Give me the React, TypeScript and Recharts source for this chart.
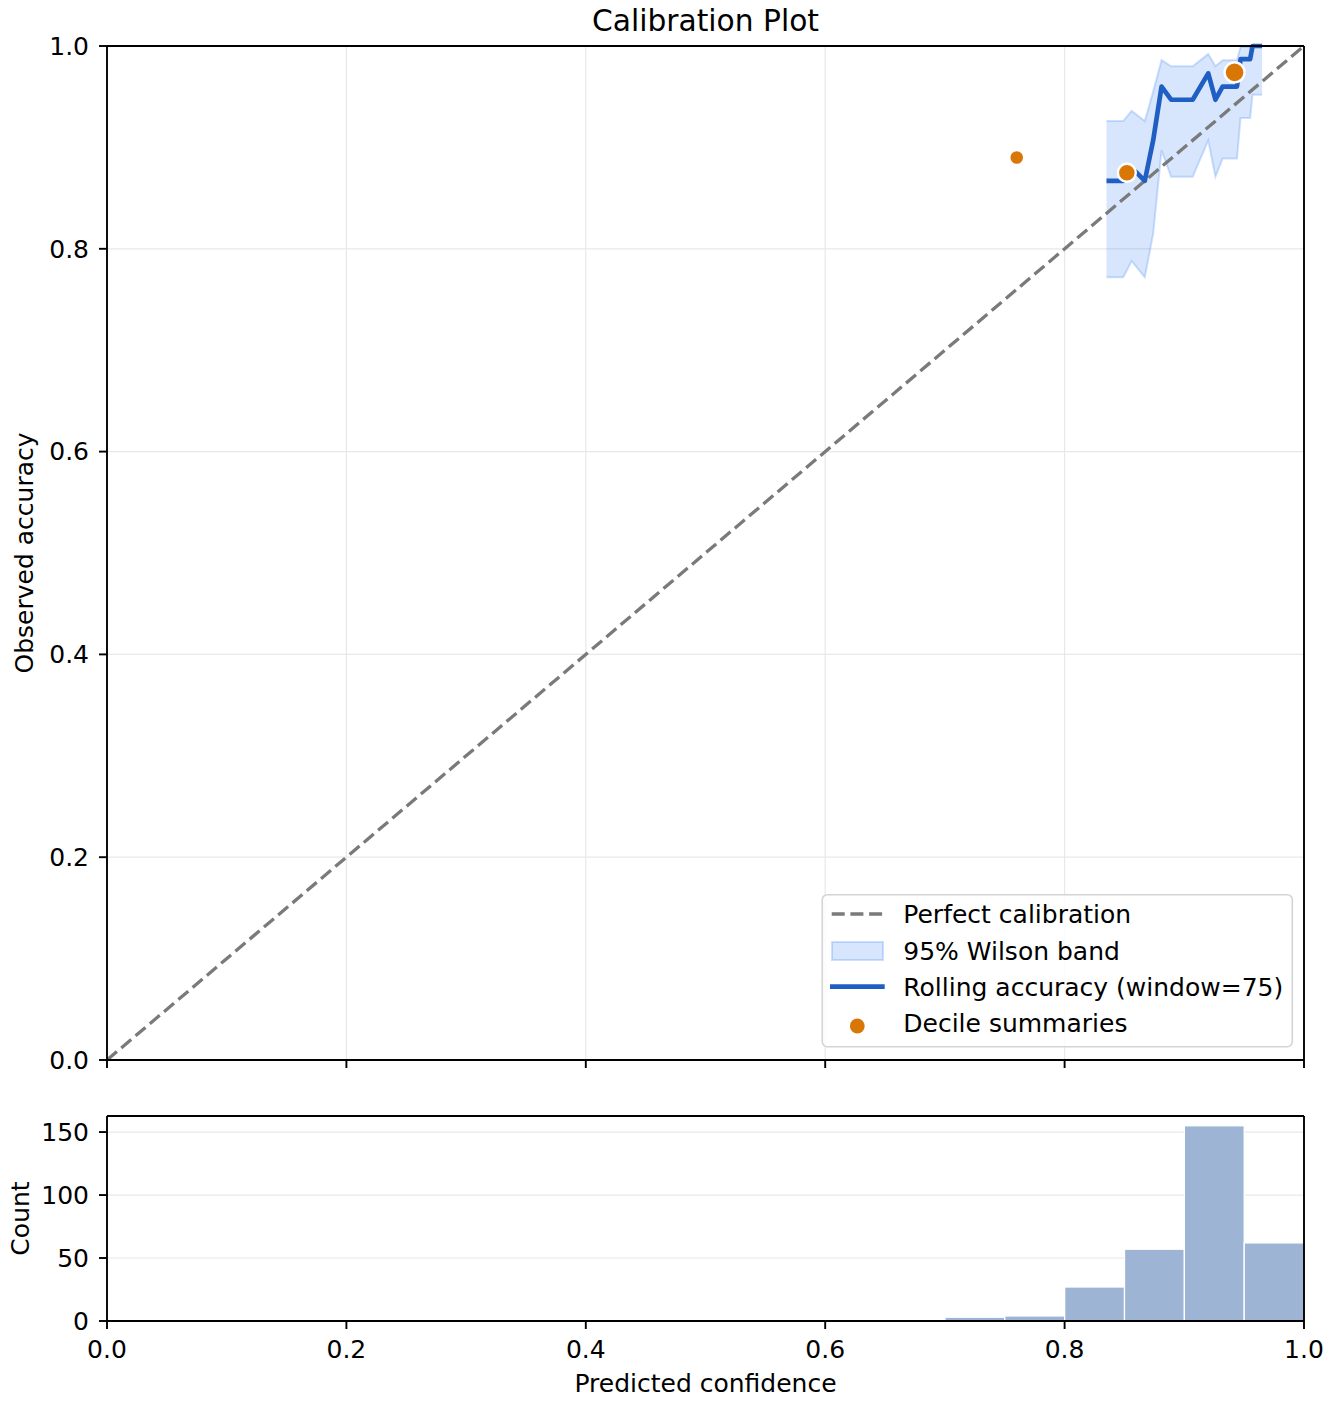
import React from "react";
import {
  Area,
  Bar,
  CartesianGrid,
  ComposedChart,
  Line,
  ReferenceLine,
  Scatter,
  XAxis,
  YAxis,
} from "recharts";

const FONT = "DejaVu Sans";

// rolling accuracy (window=75) with its 95% Wilson band
const rollConf = [
  0.835, 0.849, 0.856, 0.867, 0.874, 0.881, 0.889, 0.907, 0.92, 0.926, 0.932,
  0.944, 0.947, 0.955, 0.957, 0.965,
];
const rollAcc = [
  0.867, 0.867, 0.88, 0.867, 0.907, 0.96, 0.947, 0.947, 0.973, 0.947, 0.96,
  0.96, 0.987, 0.987, 1, 1,
];
const bandLow = [
  0.772, 0.772, 0.788, 0.772, 0.815, 0.897, 0.871, 0.871, 0.907, 0.871, 0.889,
  0.889, 0.929, 0.929, 0.952, 0.952,
];
const bandHigh = [
  0.926, 0.926, 0.936, 0.926, 0.955, 0.986, 0.98, 0.98, 0.992, 0.98, 0.986,
  0.986, 0.999, 0.999, 1, 1,
];

// decile summaries (mean confidence, accuracy, samples)
const decileConf = [0.76, 0.852, 0.942];
const decileAcc = [0.89, 0.875, 0.974];
const decileCount = [7, 84, 217];

// perfect calibration diagonal
const diagConf = [0, 1];

// histogram of predicted confidence
const binStart = [0.7, 0.75, 0.8, 0.85, 0.9, 0.95];
const binCount = [3, 4, 27, 57, 155, 62];
const BIN_WIDTH = 0.05;

const confTicks = [0, 0.2, 0.4, 0.6, 0.8, 1];
const accTicks = [0, 0.2, 0.4, 0.6, 0.8, 1];
const countTicks = [0, 50, 100, 150];

const rollRows = rollConf.map((x, i) => ({
  x,
  acc: rollAcc[i],
  band: [bandLow[i], bandHigh[i]],
}));
const decileRows = decileConf.map((x, i) => ({
  x,
  y: decileAcc[i],
  n: decileCount[i],
}));
const diagRows = diagConf.map((x) => ({ x, diag: x }));
const histRows = binStart.map((s, i) => ({
  x: s + BIN_WIDTH / 2,
  count: binCount[i],
}));
const countMax = Math.max(...binCount) * 1.05;

const PLOT_W = 1197;
const BLUE = "#1f5fc4";
const BAND = "#3b82f6";
const ORANGE = "#d97706";
const GREY = "#7a7a7a";

const spine = { stroke: "#000", strokeWidth: 1.9 };
const tickText = { fill: "#000", fontSize: 25, fontFamily: FONT };

// marker size grows with the number of samples in the decile
const dotRadius = (n: number) =>
  Math.sqrt((98.7 + 9.82 * Math.sqrt(n)) / Math.PI) + 1.2;

function DecileDot(props: any) {
  const { cx, cy, payload } = props;
  if (cx == null || cy == null) return null;
  return (
    <circle
      cx={cx}
      cy={cy}
      r={dotRadius(payload.n)}
      fill={ORANGE}
      stroke="#fff"
      strokeWidth={2.4}
    />
  );
}

// full-width histogram bar, centred where recharts put it
function HistBar(props: any) {
  const { x, y, width, height } = props;
  if (height == null || height <= 0) return null;
  const w = PLOT_W * BIN_WIDTH;
  const cx = x + width / 2;
  return (
    <rect
      x={cx - w / 2}
      y={y}
      width={w}
      height={height}
      fill="#9db4d5"
      stroke="#fff"
      strokeWidth={1.3}
    />
  );
}

function Overlay() {
  const rows = [
    "Perfect calibration",
    "95% Wilson band",
    "Rolling accuracy (window=75)",
    "Decile summaries",
  ];
  const baselines = [923.3, 959.5, 996, 1032.3];
  return (
    <svg
      width={1332}
      height={1404}
      style={{ position: "absolute", left: 0, top: 0, pointerEvents: "none" }}
      fontFamily={FONT}
    >
      <text x={705.5} y={31} textAnchor="middle" fontSize={29.7} fill="#000">
        Calibration Plot
      </text>
      <text
        transform="translate(33,553) rotate(-90)"
        textAnchor="middle"
        fontSize={25}
        fill="#000"
      >
        Observed accuracy
      </text>
      <text
        transform="translate(28.5,1218.5) rotate(-90)"
        textAnchor="middle"
        fontSize={25}
        fill="#000"
      >
        Count
      </text>

      <rect
        x={822.3}
        y={894.7}
        width={470}
        height={152}
        rx={5}
        fill="#fff"
        fillOpacity={0.8}
        stroke="#d4d4d4"
        strokeWidth={1.6}
      />
      <line
        x1={831.7}
        x2={883.3}
        y1={914}
        y2={914}
        stroke={GREY}
        strokeWidth={3.3}
        strokeDasharray="13 5.7"
      />
      <rect
        x={832}
        y={942}
        width={51}
        height={18}
        fill={BAND}
        fillOpacity={0.2}
        stroke={BAND}
        strokeOpacity={0.25}
        strokeWidth={2}
      />
      <line
        x1={830}
        x2={884.7}
        y1={986.7}
        y2={986.7}
        stroke={BLUE}
        strokeWidth={4.7}
      />
      <circle cx={857.3} cy={1026} r={7.4} fill={ORANGE} />
      {rows.map((t, i) => (
        <text key={t} x={903.3} y={baselines[i]} fontSize={25} fill="#000">
          {t}
        </text>
      ))}
    </svg>
  );
}

export default function App() {
  return (
    <div
      style={{
        position: "absolute",
        left: 0,
        top: 0,
        width: 1332,
        height: 1404,
        background: "#fff",
        fontFamily: FONT,
      }}
    >
      <div style={{ position: "absolute", left: 0, top: 0 }}>
        <ComposedChart
          width={1332}
          height={1085}
          data={rollRows}
          margin={{ top: 46, right: 28, bottom: 0, left: 47 }}
        >
          <CartesianGrid stroke="#e8e8e8" strokeWidth={1.2} />
          <XAxis
            type="number"
            dataKey="x"
            domain={[0, 1]}
            ticks={confTicks}
            interval={0}
            tickFormatter={() => ""}
            height={25}
            tickSize={8}
            axisLine={spine}
            tickLine={spine}
          />
          <YAxis
            type="number"
            domain={[0, 1]}
            ticks={accTicks}
            interval={0}
            tickFormatter={(v: number) => v.toFixed(1)}
            width={60}
            tickSize={8}
            tickMargin={10}
            tick={tickText}
            axisLine={spine}
            tickLine={spine}
          />
          <Line
            data={diagRows}
            dataKey="diag"
            type="linear"
            stroke={GREY}
            strokeWidth={3.3}
            strokeDasharray="13 5.7"
            dot={false}
            activeDot={false}
            isAnimationActive={false}
          />
          <Area
            dataKey="band"
            type="linear"
            fill={BAND}
            fillOpacity={0.2}
            stroke={BAND}
            strokeOpacity={0.25}
            strokeWidth={2}
            dot={false}
            activeDot={false}
            isAnimationActive={false}
          />
          <Line
            dataKey="acc"
            type="linear"
            stroke={BLUE}
            strokeWidth={4.7}
            strokeLinejoin="round"
            dot={false}
            activeDot={false}
            isAnimationActive={false}
          />
          <Scatter
            data={decileRows}
            dataKey="y"
            shape={DecileDot}
            isAnimationActive={false}
          />
          <ReferenceLine y={1} {...spine} />
          <ReferenceLine x={1} {...spine} />
        </ComposedChart>
      </div>

      <div style={{ position: "absolute", left: 0, top: 1090 }}>
        <ComposedChart
          width={1332}
          height={314}
          data={histRows}
          margin={{ top: 26, right: 28, bottom: 11, left: 47 }}
        >
          <CartesianGrid stroke="#e8e8e8" strokeWidth={1.2} vertical={false} />
          <XAxis
            type="number"
            dataKey="x"
            domain={[0, 1]}
            ticks={confTicks}
            interval={0}
            tickFormatter={(v: number) => v.toFixed(1)}
            height={72}
            tickSize={8}
            tickMargin={11}
            tick={tickText}
            axisLine={spine}
            tickLine={spine}
            label={{
              value: "Predicted confidence",
              position: "insideBottom",
              offset: 1,
              fill: "#000",
              fontSize: 25,
              fontFamily: FONT,
            }}
          />
          <YAxis
            type="number"
            domain={[0, countMax]}
            ticks={countTicks}
            interval={0}
            width={60}
            tickSize={8}
            tickMargin={10}
            tick={tickText}
            axisLine={spine}
            tickLine={spine}
          />
          <Bar
            dataKey="count"
            shape={HistBar}
            isAnimationActive={false}
          />
          <ReferenceLine y={countMax} {...spine} />
          <ReferenceLine x={1} {...spine} />
        </ComposedChart>
      </div>

      <Overlay />
    </div>
  );
}
